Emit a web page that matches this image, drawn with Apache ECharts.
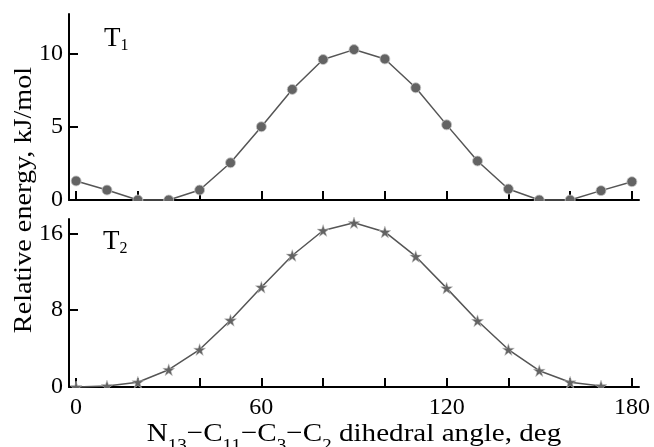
<!DOCTYPE html>
<html>
<head>
<meta charset="utf-8">
<script src="https://cdn.jsdelivr.net/npm/echarts@6/dist/echarts.min.js"></script>
<style>
  html, body { margin: 0; padding: 0; background: #fff; }
  #chart { width: 654px; height: 447px; }
</style>
</head>
<body>
<div id="chart"></div>
<script>
// ---- data ----
var angles = [0, 10, 20, 30, 40, 50, 60, 70, 80, 90, 100, 110, 120, 130, 140, 150, 160, 170, 180];
var t1Energy = [1.3, 0.68, 0, 0, 0.68, 2.54, 5.0, 7.55, 9.59, 10.27, 9.63, 7.66, 5.13, 2.66, 0.75, 0, 0, 0.64, 1.25];
var t2Angles = [0, 10, 20, 30, 40, 50, 60, 70, 80, 90, 100, 110, 120, 130, 140, 150, 160, 170];
var t2Energy = [0, 0.1, 0.5, 1.8, 3.9, 6.95, 10.4, 13.7, 16.3, 17.1, 16.15, 13.6, 10.3, 6.9, 3.9, 1.7, 0.5, 0.1];
var xTickValues = [0, 20, 40, 60, 80, 100, 120, 140, 160, 180];
var xLabelValues = [0, 60, 120, 180];
var y1TickValues = [0, 5, 10];
var y2TickValues = [0, 8, 16];

var FONT = 'Liberation Serif';
var STAR = 'path://M50,0 L61.8,35.1 L98.9,35.1 L68.9,56.9 L80.4,92.1 L50,70.5 L19.6,92.1 L31.1,56.9 L1.1,35.1 L38.2,35.1 Z';

function zip(xs, ys) { return xs.map(function (x, i) { return [x, ys[i]]; }); }

function xAxisDef(grid, showLabels) {
  return {
    gridIndex: grid, type: 'value', min: -2.3, max: 182.3,
    axisLine: { show: true, onZero: false, lineStyle: { color: '#000', width: 2 } },
    axisTick: { show: true, inside: true, length: 9, customValues: xTickValues, lineStyle: { color: '#000', width: 2 } },
    axisLabel: showLabels ? { show: true, customValues: xLabelValues, fontFamily: FONT, fontSize: 24, color: '#000', margin: 9 } : { show: false },
    splitLine: { show: false }
  };
}
function yAxisDef(grid, max, ticks) {
  return {
    gridIndex: grid, type: 'value', min: 0, max: max,
    axisLine: { show: true, onZero: false, lineStyle: { color: '#000', width: 2 } },
    axisTick: { show: true, inside: true, length: 9, customValues: ticks, lineStyle: { color: '#000', width: 2 } },
    axisLabel: { show: true, customValues: ticks, fontFamily: FONT, fontSize: 24, color: '#000', margin: 6 },
    splitLine: { show: false }
  };
}

var tRich = {
  m: { fontFamily: FONT, fontSize: 27, lineHeight: 27, verticalAlign: 'top' },
  s: { fontFamily: FONT, fontSize: 16, lineHeight: 29, verticalAlign: 'bottom' }
};

var chart = echarts.init(document.getElementById('chart'), null, { renderer: 'canvas' });
chart.setOption({
  animation: false,
  backgroundColor: '#fff',
  grid: [
    { left: 69, right: 15, top: 14, height: 186 },
    { left: 69, right: 15, top: 219, height: 168 }
  ],
  xAxis: [xAxisDef(0, false), xAxisDef(1, true)],
  yAxis: [yAxisDef(0, 12.7, y1TickValues), yAxisDef(1, 17.5, y2TickValues)],
  series: [
    {
      type: 'line', xAxisIndex: 0, yAxisIndex: 0, data: zip(angles, t1Energy),
      symbol: 'circle', symbolSize: 10, clip: false,
      lineStyle: { color: '#555', width: 1.5 },
      itemStyle: { color: '#636363', borderColor: '#c8c8c8', borderWidth: 0.8 }
    },
    {
      type: 'line', xAxisIndex: 1, yAxisIndex: 1, data: zip(t2Angles, t2Energy),
      symbol: STAR, symbolSize: 12, clip: false,
      lineStyle: { color: '#555', width: 1.5 },
      itemStyle: { color: '#636363', borderColor: '#c8c8c8', borderWidth: 0.5 }
    }
  ],
  graphic: [
    { type: 'rect', z: 50, shape: { x: 70, y: 201, width: 575, height: 16 }, style: { fill: '#fff' } },
    { type: 'rect', z: 50, shape: { x: 70, y: 388, width: 575, height: 8 }, style: { fill: '#fff' } },
    {
      type: 'text', z: 60, x: 104, y: 25,
      style: { text: '{m|T}{s|1}', fill: '#000', rich: tRich }
    },
    {
      type: 'text', z: 60, x: 103, y: 228,
      style: { text: '{m|T}{s|2}', fill: '#000', rich: tRich }
    },
    {
      type: 'text', z: 60, x: 24, y: 200, rotation: Math.PI / 2, scaleX: 1.085,
      style: {
        text: 'Relative energy, kJ/mol', fill: '#000',
        font: '26px "Liberation Serif"', align: 'center', verticalAlign: 'middle'
      }
    },
    {
      type: 'text', z: 60, x: 354, y: 421, scaleX: 1.12,
      style: {
        text: '{m|N}{s|13}{m|−C}{s|11}{m|−C}{s|3}{m|−C}{s|2}{m| dihedral angle, deg}', fill: '#000',
        align: 'center', verticalAlign: 'top',
        rich: { m: { fontFamily: FONT, fontSize: 26, lineHeight: 26, verticalAlign: 'top' },
                s: { fontFamily: FONT, fontSize: 17, lineHeight: 33, verticalAlign: 'bottom' } }
      }
    }
  ]
});
</script>
</body>
</html>
